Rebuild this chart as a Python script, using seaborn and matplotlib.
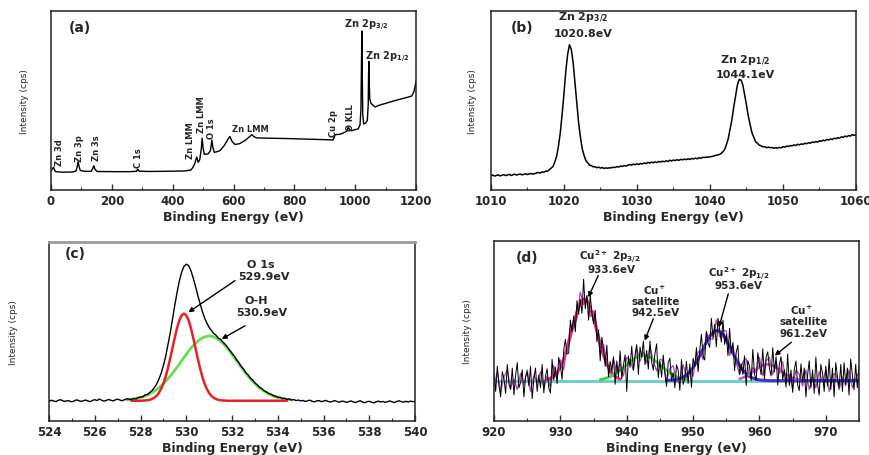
import numpy as np
import matplotlib
matplotlib.use("Agg")
import matplotlib.pyplot as plt
import seaborn as sns
from matplotlib.ticker import MultipleLocator

# ---------------- data ----------------
# (a) survey spectrum
survey_energy = [0, 4, 8, 11, 15, 40, 70, 82, 86, 89, 92, 96, 110, 132, 137, 141, 145, 152,
                 200, 260, 281, 285, 289, 320, 380, 440, 460, 467, 473, 479, 484, 489, 494,
                 497, 500, 504, 516, 524, 529, 532, 537, 555, 570, 582, 588, 596, 605, 621,
                 640, 655, 660, 668, 676, 720, 780, 840, 900, 927, 931, 934, 950, 965, 972,
                 977, 982, 988, 1000, 1010, 1016, 1019, 1021, 1022, 1023, 1025, 1028, 1035,
                 1040, 1043, 1044, 1045, 1046, 1048, 1052, 1065, 1080, 1100, 1120, 1147,
                 1170, 1186, 1193, 1197, 1200]
survey_intensity = [10.8, 11.6, 12.8, 11.4, 10.3, 10.0, 10.1, 10.6, 13.0, 15.8, 13.5, 11.0,
                    10.5, 10.5, 12.0, 13.6, 11.5, 10.4, 10.3, 10.3, 10.5, 11.7, 10.6, 10.4,
                    10.5, 10.7, 11.2, 12.8, 15.0, 18.5, 15.5, 17.0, 23.0, 29.0, 23.5, 20.0,
                    20.2, 22.0, 28.0, 24.0, 21.0, 22.0, 25.0, 28.5, 30.0, 27.0, 25.5, 26.0,
                    28.0, 30.2, 31.0, 29.8, 29.2, 29.0, 28.8, 28.5, 28.2, 28.0, 29.5, 31.0,
                    31.2, 32.2, 33.0, 35.0, 33.8, 33.2, 33.8, 34.2, 36.5, 45.0, 75.0, 89.0,
                    70.0, 42.0, 37.0, 37.5, 39.0, 48.0, 64.0, 72.0, 62.0, 51.0, 48.5, 46.5,
                    47.5, 48.5, 49.5, 50.8, 51.8, 52.6, 55.0, 58.0, 61.0]
survey_labels = ["Zn 3d", "Zn 3p", "Zn 3s", "C 1s", "Zn LMM", "Zn LMM", "O 1s",
                 "Zn LMM", "Cu 2p", "O KLL", "Zn 2p$_{3/2}$", "Zn 2p$_{1/2}$"]
survey_label_x = [28, 94, 150, 287, 457, 495, 529, 654, 930, 986, 1035, 1105]
survey_label_y = [21.5, 24, 24, 18.3, 28, 43, 35, 34.7, 37.6, 41, 92.7, 74.9]
survey_label_rot = [90, 90, 90, 90, 90, 90, 90, 0, 90, 90, 0, 0]

# (b) Zn 2p high resolution, 1010-1060 eV, step 0.25 eV
zn_start, zn_step = 1010.0, 0.25
zn_intensity = [
    8.0, 8.4, 7.8, 8.2, 8.5, 7.9, 8.3, 8.6,
    8.1, 8.4, 8.8, 8.2, 8.5, 8.9, 8.4, 8.7,
    9.0, 8.5, 8.8, 9.1, 8.7, 9.0, 9.3, 8.9,
    9.2, 9.6, 9.8, 9.5, 10.2, 10.0, 10.6, 10.5,
    11.4, 12.3, 13.2, 15.8, 19.0, 24.8, 32.2, 42.7,
    54.1, 66.5, 75.8, 81.3, 78.8, 71.5, 60.1, 48.8,
    37.8, 29.7, 23.1, 19.4, 16.5, 15.3, 13.9, 13.7,
    13.0, 13.1, 12.5, 12.8, 12.3, 12.6, 12.1, 12.4,
    12.2, 12.5, 12.4, 12.8, 12.6, 13.1, 12.9, 13.4,
    13.2, 13.7, 13.4, 13.9, 14.2, 14.0, 14.5, 14.2,
    14.7, 14.3, 14.9, 14.6, 15.2, 14.8, 15.5, 15.1,
    15.6, 15.3, 15.8, 15.4, 16.0, 15.7, 16.2, 15.8,
    16.4, 16.0, 16.7, 16.3, 16.8, 16.5, 17.0, 16.6,
    17.2, 16.9, 17.3, 17.0, 17.5, 17.1, 17.7, 17.4,
    17.9, 17.5, 18.1, 17.8, 18.3, 18.2, 18.5, 18.4,
    18.6, 18.8, 19.0, 19.4, 19.6, 19.8, 20.4, 21.3,
    22.6, 25.4, 28.7, 33.9, 39.3, 46.3, 52.6, 58.7,
    61.9, 61.6, 58.8, 53.3, 47.7, 41.3, 36.7, 32.1,
    29.5, 27.0, 26.2, 25.1, 24.8, 24.2, 24.3, 23.7,
    24.0, 23.7, 23.8, 23.4, 23.7, 23.5, 23.9, 23.6,
    24.3, 24.0, 24.6, 24.4, 24.9, 24.7, 25.3, 24.9,
    25.6, 25.3, 25.8, 25.6, 26.2, 25.9, 26.5, 26.2,
    26.9, 26.6, 27.2, 26.8, 27.6, 27.3, 27.9, 27.6,
    28.3, 28.0, 28.6, 28.3, 29.0, 28.7, 29.3, 29.0,
    29.8, 29.5, 30.2, 29.8, 30.5, 30.2, 31.0, 30.6,
    31.0]

# (c) O 1s, 524-540 eV, step 0.1 eV
o_start, o_step = 524.0, 0.1
o_raw = [
    11.0, 11.6, 11.2, 10.8, 11.5, 11.9, 11.3, 10.9, 11.4, 11.1,
    10.7, 11.2, 11.8, 11.4, 10.9, 11.3, 11.7, 11.2, 10.8, 11.5,
    11.9, 11.4, 12.3, 11.6, 11.1, 11.5, 12.0, 11.6, 11.2, 11.8,
    12.2, 11.7, 11.3, 11.9, 12.4, 12.2, 12.0, 12.6, 12.3, 13.1,
    13.4, 13.5, 14.6, 14.7, 15.9, 16.9, 18.7, 20.4, 23.3, 26.5,
    31.0, 36.1, 42.6, 49.3, 57.2, 64.8, 72.0, 78.4, 83.2, 86.4,
    87.6, 86.8, 84.1, 80.0, 75.4, 70.3, 65.8, 61.3, 57.6, 54.7,
    52.3, 50.6, 48.9, 47.9, 46.3, 45.6, 44.1, 42.9, 41.2, 39.6,
    37.8, 36.3, 34.2, 32.6, 30.5, 29.1, 27.0, 25.8, 24.0, 22.9,
    21.3, 20.2, 18.9, 18.1, 16.9, 16.3, 15.4, 15.0, 14.2, 13.9,
    13.3, 13.2, 12.6, 12.7, 12.1, 12.3, 11.7, 12.0, 11.4, 11.7,
    11.2, 11.5, 10.9, 11.3, 11.6, 11.0, 10.7, 11.2, 11.4, 10.8,
    11.1, 11.5, 10.9, 10.6, 11.0, 11.4, 10.8, 10.5, 11.1, 10.9,
    10.4, 10.8, 11.2, 10.7, 10.3, 10.9, 11.3, 10.6, 10.2, 10.8,
    11.0, 10.5, 10.1, 10.7, 11.1, 10.6, 10.9, 10.4, 10.8, 11.2,
    10.7, 10.3, 10.9, 11.3, 10.8, 10.5, 11.0, 10.6, 11.1, 10.8,
    10.9]
o1s_start, o1s_step = 527.6, 0.1
o1s_fit = [11.3, 11.3, 11.3, 11.3,
           11.3, 11.4, 11.45, 11.6, 11.8, 12.3, 13.0, 14.0, 15.6, 17.9,
           20.9, 24.8, 29.6, 35.0, 40.9, 46.7, 52.0, 56.3, 59.0, 60.0,
           59.0, 56.3, 52.0, 46.7, 40.9, 35.0, 29.6, 24.8, 20.9, 17.9,
           15.6, 14.0, 13.0, 12.3, 11.8, 11.6, 11.45, 11.4, 11.3, 11.3,
           11.3, 11.3, 11.3, 11.3, 11.3, 11.3, 11.3, 11.3, 11.3, 11.3,
           11.3, 11.3, 11.3, 11.3, 11.3, 11.3, 11.3, 11.3, 11.3, 11.3,
           11.3, 11.3, 11.3, 11.3, 11.3]
oh_start, oh_step = 527.4, 0.2
oh_fit = [11.8, 12.1, 12.5, 13.1, 14.0, 15.1, 16.6, 18.5, 20.8, 23.6, 26.7, 30.1, 33.7,
          37.3, 40.6, 43.4, 45.6, 47.0, 47.5, 47.0, 45.6, 43.4, 40.6, 37.3, 33.7, 30.1,
          26.7, 23.6, 20.8, 18.5, 16.6, 15.1, 14.0, 13.1, 12.5, 12.1, 11.8]

# (d) Cu 2p, 920-975 eV, raw counts step 0.25 eV
cu_start, cu_step = 920.0, 0.25
cu_raw = [
    26.4, 16.4, 30.4, 19.4, 13.4, 27.4, 23.4, 15.4,
    31.4, 20.4, 17.4, 29.4, 14.4, 25.4, 32.4, 18.4,
    21.4, 28.4, 13.4, 24.4, 27.4, 19.4, 30.4, 12.4,
    23.4, 29.4, 16.4, 25.4, 18.4, 31.4, 15.7, 24.8,
    29.0, 18.3, 15.6, 34.2, 22.8, 29.8, 20.8, 35.3,
    30.9, 23.1, 39.4, 45.3, 37.2, 37.6, 56.0, 49.6,
    58.2, 49.5, 66.8, 59.2, 67.6, 59.7, 78.7, 62.4,
    69.8, 56.0, 70.0, 60.0, 54.0, 61.5, 44.0, 50.7,
    33.4, 46.5, 39.6, 30.3, 42.1, 24.6, 33.1, 27.3,
    35.6, 20.4, 33.3, 24.6, 38.9, 23.4, 31.0, 36.7,
    16.4, 36.1, 29.8, 41.5, 28.2, 36.8, 42.4, 25.8,
    41.1, 35.3, 44.4, 31.3, 39.1, 28.8, 44.4, 32.8,
    28.2, 37.5, 42.8, 24.0, 33.2, 24.4, 36.6, 25.9,
    19.2, 32.5, 34.9, 22.3, 26.8, 18.5, 31.2, 28.1,
    17.0, 34.1, 20.3, 23.7, 33.1, 20.8, 31.6, 18.7,
    34.8, 30.2, 40.7, 27.4, 39.2, 48.1, 36.0, 33.9,
    49.8, 43.3, 40.9, 57.0, 46.2, 53.7, 41.2, 57.0,
    50.7, 43.8, 56.0, 42.5, 48.1, 36.3, 51.5, 37.6,
    43.7, 27.9, 38.1, 42.0, 25.8, 31.8, 25.8, 36.2,
    19.7, 33.5, 30.3, 22.5, 39.7, 26.1, 22.5, 37.9,
    31.3, 25.7, 40.1, 23.3, 35.5, 38.4, 29.3, 25.0,
    40.7, 27.2, 35.7, 20.0, 31.4, 35.7, 23.0, 28.4,
    18.8, 37.2, 19.7, 28.3, 15.9, 28.6, 33.3, 20.1,
    16.9, 31.7, 21.4, 29.4, 13.4, 25.4, 33.4, 18.4,
    28.4, 15.4, 35.4, 20.4, 14.4, 31.4, 26.4, 16.4,
    30.4, 19.4, 34.4, 17.4, 29.4, 13.4, 32.4, 24.4,
    18.4, 31.4, 16.4, 32.4, 20.4, 29.4, 14.4, 34.4,
    25.4, 17.4, 31.4, 18.4, 30.4]
# (d) smoothed (coloured) trace, step 0.5 eV
cu_smooth_start, cu_smooth_step = 920.0, 0.5
cu_smooth = [
    19.4, 27.4, 16.4, 24.4, 28.4, 18.4, 23.4, 17.4, 26.4, 20.4, 28.4, 16.4, 25.4, 21.4,
    27.4, 18.4,
    25.0, 18.6, 30.8, 23.8, 33.9, 28.4, 41.2, 52.0,
    52.2, 56.8, 71.6, 64.7, 68.8, 58.0, 61.0, 53.0,
    37.4, 42.6, 32.1, 26.1, 34.6, 26.3, 31.9, 25.0,
    35.4, 33.8, 28.2, 40.4, 33.1, 38.4, 32.1, 41.4,
    33.2, 27.8, 34.2, 33.6, 22.2, 28.9, 30.8, 22.2,
    21.0, 31.3, 24.1, 28.6, 24.8, 36.7, 39.2, 34.0,
    48.8, 45.9, 45.2, 56.2, 46.7, 50.0, 50.1, 36.5,
    41.7, 32.1, 25.8, 32.8, 34.7, 24.3, 29.7, 26.5,
    35.3, 25.1, 33.5, 35.3, 25.7, 32.7, 26.4, 33.0,
    21.8, 25.7, 17.9, 28.3, 25.9,
    19.4, 28.4, 17.4, 24.4, 18.4, 27.4, 21.4, 28.4, 16.4, 25.4, 26.4, 17.4, 24.4, 19.4,
    28.4, 18.4, 23.4, 27.4]
cu2p32_start, fit_step = 928.0, 0.5
cu2p32_fit = [23.0, 23.6, 24.8, 26.8, 29.9, 34.4, 40.2, 47.0, 54.2, 60.8, 65.6, 67.7,
              66.8, 63.0, 57.0, 50.0, 42.8, 36.6, 31.6, 27.9, 25.5, 24.0, 23.2]
sat1_start = 936.0
sat1_fit = [23.0, 23.4, 23.9, 24.6, 25.5, 26.7, 28.1, 29.6, 31.2, 32.8, 34.2, 35.4, 36.1,
            36.4, 36.1, 35.4, 34.2, 32.8, 31.2, 29.6, 28.1, 26.7, 25.5, 24.6, 23.9, 23.4, 23.0]
cu2p12_start = 946.0
cu2p12_fit = [22.5, 22.6, 22.7, 23.0, 23.5, 24.3, 25.5, 27.3, 29.7, 32.7, 36.2, 40.0,
              43.8, 46.9, 49.2, 50.2, 49.7, 48.0, 45.1, 41.5, 37.7, 34.1, 30.8, 28.2,
              26.2, 24.7, 23.8, 23.2, 22.8, 22.6, 22.5,
              22.4, 22.4, 22.4, 22.4, 22.4, 22.4, 22.4, 22.4, 22.4, 22.4, 22.4, 22.4,
              22.4, 22.4, 22.4, 22.4, 22.4, 22.4, 22.4, 22.4, 22.4, 22.4, 22.4, 22.4,
              22.4, 22.4, 22.4, 22.4]
sat2_start = 957.0
sat2_fit = [23.4, 24.0, 24.9, 26.0, 27.3, 28.7, 29.9, 30.9, 31.4, 31.3, 30.7, 29.7, 28.4,
            27.0, 25.8, 24.7, 23.9, 23.3, 22.9]
baseline_energy = [920, 975]
baseline_level = [22.4, 22.4]

# ---------------- style ----------------
sns.set_theme(style="ticks")
plt.rcParams["font.family"] = ["DejaVu Sans"]
plt.rcParams["font.weight"] = "bold"
plt.rcParams["mathtext.fontset"] = "dejavusans"
plt.rcParams["mathtext.default"] = "bf"

fig = plt.figure(figsize=(8.69, 4.56), dpi=100)
axa = fig.add_axes([0.0587, 0.581, 0.420, 0.392])
axb = fig.add_axes([0.565, 0.581, 0.420, 0.392])
axc = fig.add_axes([0.0564, 0.0746, 0.4212, 0.3925])
axd = fig.add_axes([0.5685, 0.0746, 0.420, 0.395])


def grid(start, step, values):
    return start + step * np.arange(len(values))


def style_axis(ax, xlim, major, minor, panel, py=0.91, px=0.08, ypad=16):
    ax.set_xlim(*xlim)
    ax.set_ylim(0, 100)
    ax.xaxis.set_major_locator(MultipleLocator(major))
    ax.xaxis.set_minor_locator(MultipleLocator(minor))
    ax.set_yticks([])
    ax.tick_params(axis="x", which="both", direction="in", top=False,
                   labelsize=8.5, pad=3, color="#333333")
    ax.tick_params(axis="x", which="major", length=4, width=1)
    ax.tick_params(axis="x", which="minor", length=2, width=0.8)
    for lab in ax.get_xticklabels():
        lab.set_fontweight("bold")
    for sp in ax.spines.values():
        sp.set_visible(True)
        sp.set_linewidth(1.1)
        sp.set_color("#222222")
    ax.set_xlabel("Binding Energy (eV)", fontsize=9, fontweight="bold", labelpad=2)
    ax.set_ylabel("Intensity (cps)", fontsize=6.5, fontweight="normal", labelpad=ypad)
    ax.text(px, py, panel, transform=ax.transAxes, fontsize=10, fontweight="bold",
            ha="center", va="center")


arrow = dict(arrowstyle="-|>", color="black", lw=1.0, mutation_scale=7,
             shrinkA=0, shrinkB=0)

# (a)
sns.lineplot(x=survey_energy, y=survey_intensity, ax=axa, color="black", lw=1.0,
             sort=False, estimator=None)
for t, x, y, r in zip(survey_labels, survey_label_x, survey_label_y, survey_label_rot):
    fs = 7 if t.startswith("Zn 2p") else 6
    axa.text(x, y, t, rotation=r, fontsize=fs, fontweight="bold", ha="center", va="center")
style_axis(axa, (0, 1200), 200, 100, "(a)", ypad=16)

# (b)
sns.lineplot(x=grid(zn_start, zn_step, zn_intensity), y=zn_intensity, ax=axb,
             color="black", lw=1.1, sort=False, estimator=None)
axb.text(1022.6, 96.6, "Zn 2p$_{3/2}$", fontsize=8, ha="center", va="center")
axb.text(1022.6, 88.0, "1020.8eV", fontsize=8, ha="center", va="center")
axb.text(1044.8, 73.0, "Zn 2p$_{1/2}$", fontsize=8, ha="center", va="center")
axb.text(1044.8, 65.1, "1044.1eV", fontsize=8, ha="center", va="center")
style_axis(axb, (1010, 1060), 10, 5, "(b)", px=0.084, ypad=10)

# (c)
sns.lineplot(x=grid(oh_start, oh_step, oh_fit), y=oh_fit, ax=axc, color="#66dd55",
             lw=2.0, sort=False, estimator=None)
sns.lineplot(x=grid(o1s_start, o1s_step, o1s_fit), y=o1s_fit, ax=axc, color="#e8202a",
             lw=1.8, sort=False, estimator=None)
sns.lineplot(x=grid(o_start, o_step, o_raw), y=o_raw, ax=axc, color="black",
             lw=1.0, sort=False, estimator=None)
axc.text(533.25, 87.7, "O 1s", fontsize=8, ha="center", va="center")
axc.text(533.4, 80.8, "529.9eV", fontsize=8, ha="center", va="center")
axc.text(533.05, 67.8, "O-H", fontsize=8, ha="center", va="center")
axc.text(533.3, 60.7, "530.9eV", fontsize=8, ha="center", va="center")
axc.annotate("", xy=(530.09, 60.7), xytext=(532.13, 78.4), arrowprops=arrow)
axc.annotate("", xy=(531.55, 45.8), xytext=(532.57, 53.2), arrowprops=arrow)
style_axis(axc, (524, 540), 2, 1, "(c)", py=0.94, px=0.071, ypad=22)
axc.spines["top"].set_color("#9a9a9a")
axc.spines["top"].set_linewidth(2.0)

# (d)
sns.lineplot(x=baseline_energy, y=baseline_level, ax=axd, color="#66cccc", lw=2.0,
             sort=False, estimator=None)
sns.lineplot(x=grid(cu_smooth_start, cu_smooth_step, cu_smooth), y=cu_smooth, ax=axd,
             color="#b048c0", lw=0.9, sort=False, estimator=None)
sns.lineplot(x=grid(cu2p32_start, fit_step, cu2p32_fit), y=cu2p32_fit, ax=axd,
             color="#e0307a", lw=2.2, sort=False, estimator=None)
sns.lineplot(x=grid(sat1_start, fit_step, sat1_fit), y=sat1_fit, ax=axd,
             color="#44cc44", lw=2.0, sort=False, estimator=None)
sns.lineplot(x=grid(cu2p12_start, fit_step, cu2p12_fit), y=cu2p12_fit, ax=axd,
             color="#4b2fd0", lw=2.2, sort=False, estimator=None)
sns.lineplot(x=grid(sat2_start, fit_step, sat2_fit), y=sat2_fit, ax=axd,
             color="#c060c8", lw=2.0, sort=False, estimator=None)
sns.lineplot(x=grid(cu_start, cu_step, cu_raw), y=cu_raw, ax=axd, color="black",
             lw=0.7, sort=False, estimator=None)
axd.text(937.4, 91.8, "Cu$^{2+}$ 2p$_{3/2}$", fontsize=7.5, ha="center", va="center")
axd.text(937.7, 84.4, "933.6eV", fontsize=7.5, ha="center", va="center")
axd.annotate("", xy=(934.2, 68.7), xytext=(935.7, 80.7), arrowprops=arrow)
axd.text(944.2, 73.3, "Cu$^{+}$", fontsize=7.5, ha="center", va="center")
axd.text(944.3, 66.8, "satellite", fontsize=7.5, ha="center", va="center")
axd.text(944.3, 60.4, "942.5eV", fontsize=7.5, ha="center", va="center")
axd.annotate("", xy=(942.7, 44.6), xytext=(944.0, 56.7), arrowprops=arrow)
axd.text(956.9, 82.6, "Cu$^{2+}$ 2p$_{1/2}$", fontsize=7.5, ha="center", va="center")
axd.text(956.8, 75.6, "953.6eV", fontsize=7.5, ha="center", va="center")
axd.annotate("", xy=(953.9, 52.0), xytext=(955.3, 70.6), arrowprops=arrow)
axd.text(966.3, 62.0, "Cu$^{+}$", fontsize=7.5, ha="center", va="center")
axd.text(966.6, 55.7, "satellite", fontsize=7.5, ha="center", va="center")
axd.text(966.6, 48.9, "961.2eV", fontsize=7.5, ha="center", va="center")
axd.annotate("", xy=(962.3, 36.3), xytext=(964.8, 43.7), arrowprops=arrow)
style_axis(axd, (920, 975), 10, 5, "(d)", px=0.09, ypad=16)

fig.savefig("out.png", dpi=100)
